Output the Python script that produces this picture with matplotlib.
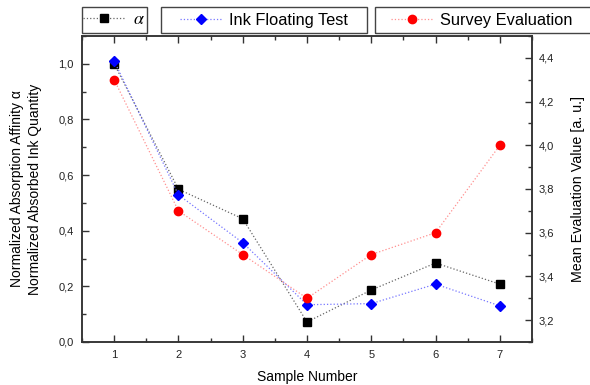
import matplotlib
matplotlib.use("Agg")
import matplotlib.pyplot as plt
from matplotlib.ticker import MultipleLocator, FuncFormatter
from matplotlib.patches import Rectangle

plt.rcParams['font.family'] = ['Liberation Sans', 'DejaVu Sans']
plt.rcParams['mathtext.fontset'] = 'stix'

samples = [1, 2, 3, 4, 5, 6, 7]
alpha_vals = [1.00, 0.549, 0.443, 0.072, 0.187, 0.284, 0.208]
ink_floating = [1.01, 0.529, 0.357, 0.134, 0.138, 0.208, 0.130]
survey = [4.30, 3.70, 3.50, 3.30, 3.50, 3.60, 4.00]

spine_col = '#333333'
comma = FuncFormatter(lambda v, p: ('%.1f' % v).replace('.', ','))

fig = plt.figure(figsize=(5.9, 3.85), dpi=100)
ax = fig.add_axes([0.139, 0.1117, 0.7627, 0.7948])
ax2 = ax.twinx()

l1, = ax.plot(samples, alpha_vals, linestyle=':', color='#666666', lw=0.9,
              marker='s', markersize=5.5, markerfacecolor='black',
              markeredgecolor='black', zorder=3)
l2, = ax.plot(samples, ink_floating, linestyle=':', color='#7777ff', lw=0.9,
              marker='D', markersize=5, markerfacecolor='#0000ff',
              markeredgecolor='#0000ff', zorder=4)
l3, = ax2.plot(samples, survey, linestyle=':', color='#ff9090', lw=0.9,
               marker='o', markersize=6, markerfacecolor='#ff0000',
               markeredgecolor='#ff0000', zorder=3)

ax.set_xlim(0.5, 7.5)
ax.set_ylim(0.0, 1.1)
ax2.set_ylim(3.1, 4.5)

ax.xaxis.set_major_locator(MultipleLocator(1))
ax.xaxis.set_minor_locator(MultipleLocator(0.5))
ax.yaxis.set_major_locator(MultipleLocator(0.2))
ax.yaxis.set_minor_locator(MultipleLocator(0.1))
ax2.yaxis.set_major_locator(MultipleLocator(0.2))
ax2.yaxis.set_minor_locator(MultipleLocator(0.1))
ax.yaxis.set_major_formatter(comma)
ax2.yaxis.set_major_formatter(comma)

ax.tick_params(axis='x', which='both', direction='in', top=True, bottom=True,
               labelsize=8, labelcolor='#222222', color=spine_col, pad=6)
ax.tick_params(axis='y', which='both', direction='in', left=True, right=False,
               labelsize=8, labelcolor='#222222', color=spine_col, pad=6)
ax2.tick_params(axis='y', which='both', direction='in', right=True,
                labelsize=8, labelcolor='#222222', color=spine_col, pad=5)
for a in (ax, ax2):
    a.tick_params(which='major', length=5, width=1)
    a.tick_params(which='minor', length=3, width=1)
    for s in a.spines.values():
        s.set_color(spine_col)
        s.set_linewidth(1.1)

ax.set_xlabel('Sample Number', fontsize=10, labelpad=7)
ax.set_ylabel('Normalized Absorption Affinity \u03b1\nNormalized Absorbed Ink Quantity',
              fontsize=10, labelpad=12, linespacing=1.3)
ax2.set_ylabel('Mean Evaluation Value [a. u.]', fontsize=10.3, labelpad=12)

# three separate legend boxes above the plot (pixel coords of the frames)
W, H = 590.0, 385.0
boxes = [(82, 147, 114, l1, r'$\alpha$', 13, 2.4),
         (161, 367, 264, l2, 'Ink Floating Test', 11.8, 2.6),
         (375, 605, 482, l3, 'Survey Evaluation', 11.8, 2.6)]
for x0, x1, xc, handle, label, fs, hl in boxes:
    fig.patches.append(Rectangle((x0 / W, 1 - 32.5 / H), (x1 - x0) / W, 25 / H,
                                 transform=fig.transFigure, fill=False,
                                 edgecolor='#444444', lw=1.0))
    fig.legend(handles=[handle], labels=[label],
               bbox_to_anchor=(xc / W, 1 - 20 / H), loc='center',
               frameon=False, borderaxespad=0, borderpad=0,
               fontsize=fs, handlelength=hl, handletextpad=0.4)

fig.savefig('out.png', dpi=100)
